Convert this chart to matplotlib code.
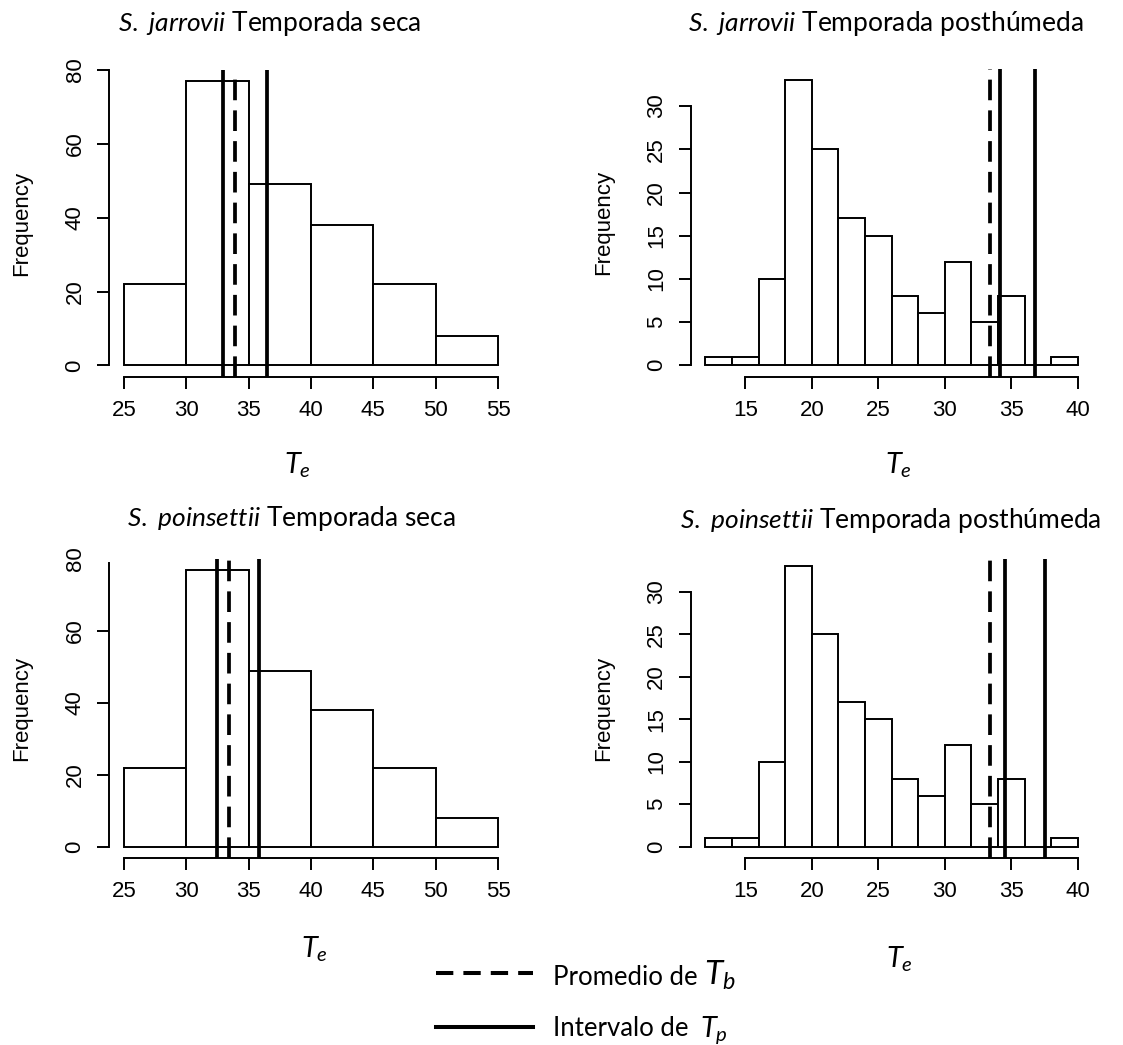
import matplotlib
matplotlib.use("Agg")
import matplotlib.pyplot as plt
from matplotlib.lines import Line2D

# --- datos ---
seca_breaks = [25, 30, 35, 40, 45, 50, 55]
seca_counts = [22, 77, 49, 38, 22, 8]
post_breaks = [12, 14, 16, 18, 20, 22, 24, 26, 28, 30, 32, 34, 36, 38, 40]
post_counts = [1, 1, 10, 33, 25, 17, 15, 8, 6, 12, 5, 8, 0, 1]

species = ["S.\\ jarrovii", "S.\\ jarrovii", "S.\\ poinsettii", "S.\\ poinsettii"]
seasons = ["Temporada seca", "Temporada posthúmeda", "Temporada seca", "Temporada posthúmeda"]
tb_promedio = [33.9, 33.4, 33.4, 33.4]
tp_bajo = [32.95, 34.15, 32.45, 34.5]
tp_alto = [36.45, 36.8, 35.85, 37.55]

seca_xticks = [25, 30, 35, 40, 45, 50, 55]
seca_yticks = [0, 20, 40, 60, 80]
post_xticks = [15, 20, 25, 30, 35, 40]
post_yticks = [0, 5, 10, 15, 20, 25, 30]

W, H = 1123, 1045
plt.rcParams["font.family"] = ["Liberation Sans", "DejaVu Sans"]
plt.rcParams["mathtext.fontset"] = "custom"
plt.rcParams["mathtext.rm"] = "Lato"
plt.rcParams["mathtext.it"] = "Lato:italic"

fig = plt.figure(figsize=(W / 100, H / 100), dpi=100)


def px_box(l, t, r, b):
    return [l / W, 1 - b / H, (r - l) / W, (b - t) / H]


# (left, top, right, bottom) in pixels
boxes = [(109, 69.8, 513, 376.7), (690.5, 68.8, 1092.6, 376.7),
         (109, 559, 513, 858), (690.5, 559.3, 1092.6, 858)]
ytops = [80.08, 34.32, 78.8, 33.8]

title_pos = [(270, 31), (886, 31), (291, 526), (891, 528)]
xlab_pos = [(284, 473), (885, 473), (301, 957), (886, 968)]

for i in range(4):
    ax = fig.add_axes(px_box(*boxes[i]))
    if i % 2 == 0:
        br, ct, xt, yt = seca_breaks, seca_counts, seca_xticks, seca_yticks
    else:
        br, ct, xt, yt = post_breaks, post_counts, post_xticks, post_yticks
    lefts = br[:-1]
    widths = [br[k + 1] - br[k] for k in range(len(br) - 1)]
    ax.bar(lefts, ct, width=widths, align="edge", facecolor="white",
           edgecolor="black", linewidth=1.4)
    span = br[-1] - br[0]
    ax.set_xlim(br[0] - 0.04 * span, br[-1] + 0.04 * span)
    ax.set_ylim(-0.04 * max(ct), ytops[i])

    ax.axvline(tb_promedio[i], color="black", lw=2.7, dashes=(5.5, 2.7))
    ax.axvline(tp_bajo[i], color="black", lw=2.7)
    ax.axvline(tp_alto[i], color="black", lw=2.7)

    for s in ["top", "right"]:
        ax.spines[s].set_visible(False)
    for s in ["left", "bottom"]:
        ax.spines[s].set_linewidth(1.4)
    ax.spines["bottom"].set_bounds(xt[0], xt[-1])
    ax.spines["left"].set_bounds(0, min(yt[-1], ytops[i]))

    ax.set_xticks(xt)
    ax.set_yticks(yt, [str(v) for v in yt], rotation=90, va="center")
    ax.tick_params(length=8.6, width=1.4, pad=8.3, labelsize=16)
    if ytops[i] < yt[-1]:
        # la marca superior queda recortada en el original
        ax.yaxis.get_major_ticks()[-1].tick1line.set_visible(False)
    ax.set_ylabel("Frequency", fontsize=16, labelpad=23)

    fig.text(title_pos[i][0] / W, 1 - title_pos[i][1] / H,
             "$\\mathit{" + species[i] + "}$ " + seasons[i],
             family="Lato", fontsize=19, ha="center", va="baseline")
    fig.text(xlab_pos[i][0] / W, 1 - xlab_pos[i][1] / H, "$T_e$",
             fontsize=21, ha="left", va="baseline")

# leyenda
fig.add_artist(Line2D([436 / W, 533 / W], [1 - 973 / H] * 2, color="black",
                      lw=2.9, dashes=(4.3, 2.5), transform=fig.transFigure))
fig.add_artist(Line2D([436 / W, 533 / W], [1 - 1027 / H] * 2, color="black",
                      lw=2.9, transform=fig.transFigure))
renderer = fig.canvas.get_renderer()
t1 = fig.text(553 / W, 1 - 985 / H, "Promedio de", family="Lato",
              fontsize=18.5, ha="left", va="baseline")
x1 = t1.get_window_extent(renderer).x1
fig.text((x1 + 6) / W, 1 - 985 / H, "$T_b$", fontsize=24, ha="left",
         va="baseline")
t2 = fig.text(553 / W, 1 - 1036 / H, "Intervalo de", family="Lato",
              fontsize=18.5, ha="left", va="baseline")
x2 = t2.get_window_extent(renderer).x1
fig.text((x2 + 12) / W, 1 - 1036 / H, "$T_p$", fontsize=21, ha="left",
         va="baseline")

fig.savefig("out.png", dpi=100, facecolor="white")
